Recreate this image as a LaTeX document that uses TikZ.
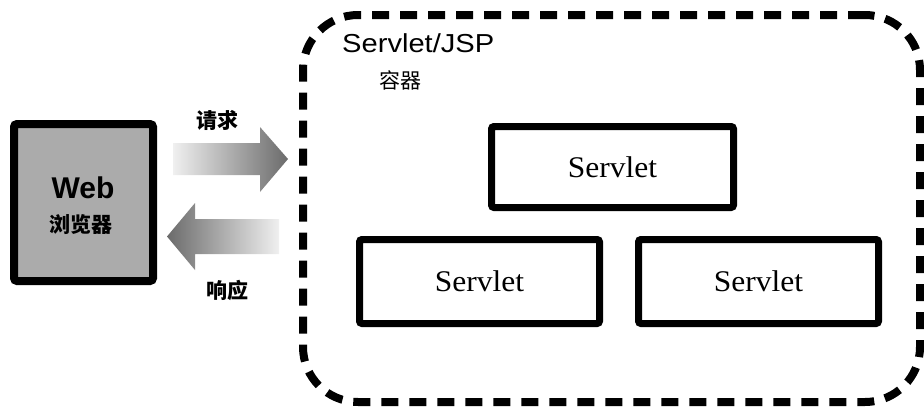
\documentclass[tikz,border=0pt]{standalone}
\usepackage{fontspec}
\setmainfont{Liberation Serif}
\newfontfamily\sanswide[FakeStretch=1.12]{Liberation Sans}
\newfontfamily\sansfont{Liberation Sans}
\newfontfamily\serifwide[FakeStretch=1.05]{Liberation Serif}
\newfontfamily\cjk{Noto Sans CJK SC}

\begin{document}
\begin{tikzpicture}[x=1pt,y=-1pt,
  servletbox/.style={draw=black, line width=7pt, rounded corners=2.5pt, fill=white,
    minimum width=240pt, minimum height=84pt, inner sep=0pt,
    font=\serifwide\fontsize{30}{32}\selectfont},
  browserbox/.style={draw=black, line width=8pt, rounded corners=3pt, fill=black!33,
    minimum width=139pt, minimum height=157pt, inner sep=0pt},
  containerbox/.style={draw=black, line width=8pt, dash pattern=on 17pt off 11pt,
    rounded corners=55pt, minimum width=617pt, minimum height=387pt, inner sep=0pt},
  cjklabel/.style={inner sep=0pt, font=\cjk\bfseries\fontsize{21}{23}\selectfont},
  blockarrow/.style={draw=none}
]
\useasboundingbox (0,0) rectangle (924,407);

% container
\node[containerbox] (ctr) at (611.5,208.5) {};
\node[anchor=base west, inner sep=0pt, font=\sanswide\fontsize{26}{28}\selectfont] (ctrtitle) at (342,52) {Servlet/JSP};
\node[inner sep=0pt, font=\cjk\fontsize{21}{23}\selectfont] (ctrsub) at (400,80) {容器};

% servlets
\node[servletbox, minimum width=242pt, minimum height=81pt] (s1) at (612.5,167) {Servlet};
\node[servletbox] (s2) at (479.5,281.5) {Servlet};
\node[servletbox] (s3) at (758.5,281.5) {Servlet};

% browser
\node[browserbox] (web) at (83.5,202.5) {};
\node[anchor=base, inner sep=0pt, font=\sansfont\bfseries\fontsize{30}{32}\selectfont] (webtitle) at (83,198) {Web};
\node[cjklabel] (websub) at (81,225) {浏览器};

% request / response block arrows
\coordinate (reqtail) at (173,159);
\coordinate (reqtip) at (288,159);
\shade[blockarrow, left color=black!6, right color=black!58]
  (reqtail |- 0,143) -- (260,143) -- (260,127) -- (reqtip) -- (260,192) -- (260,175) -- (reqtail |- 0,175) -- cycle;
\node[cjklabel] (reqlabel) at (217,120) {请求};

\coordinate (resptip) at (167,236.5);
\coordinate (resptail) at (279,236.5);
\shade[blockarrow, left color=black!58, right color=black!6]
  (resptip) -- (195,203) -- (195,219) -- (resptail |- 0,219) -- (resptail |- 0,254) -- (195,254) -- (195,270) -- cycle;
\node[cjklabel] (resplabel) at (227,290) {响应};
\end{tikzpicture}
\end{document}
